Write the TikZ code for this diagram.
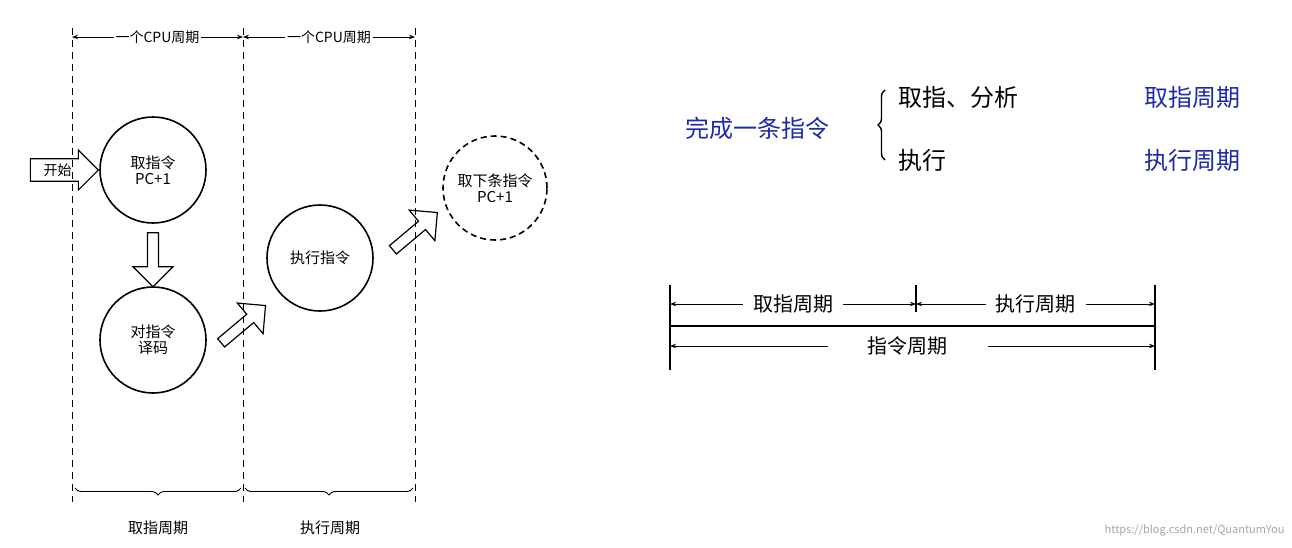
\documentclass[tikz,border=0pt]{standalone}
\usepackage{fontspec}
\setmainfont{Noto Sans CJK SC}
\usetikzlibrary{shapes.arrows,decorations.pathreplacing,arrows.meta}
\definecolor{navy}{RGB}{30,40,170}
\begin{document}
\begin{tikzpicture}[x=1pt,y=-1pt,
  stage/.style={circle,draw,line width=1.6pt,minimum size=106pt,inner sep=0pt,align=center,font=\fontsize{15}{18}\selectfont},
  fat/.style={single arrow,draw,line width=1.2pt,minimum height=52pt,minimum width=40pt,single arrow head extend=7pt,inner sep=2pt},
  guide/.style={dashed,line width=0.9pt,dash pattern=on 7pt off 5pt},
  dim/.style={{Stealth[length=6pt]}-{Stealth[length=6pt]},line width=0.7pt},
  lbl/.style={fill=white,inner sep=2pt},
  big/.style={font=\fontsize{24}{28}\selectfont}]
\useasboundingbox (0,0) rectangle (1292,547);
% guides
\coordinate (g1t) at (72,28); \coordinate (g1b) at (72,502);
\coordinate (g2t) at (243,28); \coordinate (g2b) at (243,502);
\coordinate (g3t) at (415,28); \coordinate (g3b) at (415,502);
\draw[guide] (g1t)--(g1b); \draw[guide] (g2t)--(g2b); \draw[guide] (g3t)--(g3b);
\coordinate (a1) at (72,37); \coordinate (a2) at (243,37); \coordinate (a3) at (415,37);
\draw[dim] (a1)--(a2) node[midway,lbl,font=\fontsize{14}{16}\selectfont] (c1) {一个CPU周期};
\draw[dim] (a2)--(a3) node[midway,lbl,font=\fontsize{14}{16}\selectfont] (c2) {一个CPU周期};
% circles
\node[stage] (fetch) at (153,170) {取指令\\[-2pt]PC+1};
\node[stage] (dec) at (153,340) {对指令\\[-2pt]译码};
\node[stage] (exe) at (320,258) {执行指令};
\node[stage,dashed,dash pattern=on 6pt off 4pt,minimum size=104pt] (next) at (495,188) {取下条指令\\[-2pt]PC+1};
% block arrows
\node[fat,minimum height=68pt,anchor=tip,font=\fontsize{14}{16}\selectfont,text width=30pt] (start) at (fetch.west) {开始};
\node[fat,shape border rotate=270,anchor=center,minimum height=54pt] (d1) at (153,257) {};
\node[fat,rotate=40,anchor=tip,minimum height=58pt] (d2) at (exe.west |- 0,305) {};
\node[fat,rotate=40,anchor=tip,minimum height=58pt] (d3) at (438,212) {};
% braces
\coordinate (b1) at (75,488); \coordinate (b2) at (241,488); \coordinate (b3) at (245,488); \coordinate (b4) at (413,488);
\draw[decorate,decoration={brace,mirror,amplitude=7pt},line width=0.9pt] (b1)--(b2);
\draw[decorate,decoration={brace,mirror,amplitude=7pt},line width=0.9pt] (b3)--(b4);
\node[font=\fontsize{15}{18}\selectfont] (l1) at (158,528) {取指周期};
\node[font=\fontsize{15}{18}\selectfont] (l2) at (330,528) {执行周期};
% right side
\node[big,text=navy] (done) at (757,128) {完成一条指令};
\coordinate (br1) at (885,90); \coordinate (br2) at (885,160);
\draw[decorate,decoration={brace,amplitude=7pt},line width=1.4pt] (br2)--(br1);
\node[big,anchor=west] (fa) at (895,97) {取指、分析};
\node[big,anchor=west] (ex) at (895,160) {执行};
\node[big,text=navy] (fc) at (1192,97) {取指周期};
\node[big,text=navy] (ec) at (1192,160) {执行周期};
% timeline
\coordinate (t1) at (670,285); \coordinate (t1b) at (670,370);
\coordinate (t2) at (916,285); \coordinate (t2b) at (916,312);
\coordinate (t3) at (1155,285); \coordinate (t3b) at (1155,370);
\draw[line width=1.8pt] (t1)--(t1b); \draw[line width=1.8pt] (t3)--(t3b); \draw[line width=1.4pt] (t2)--(t2b);
\coordinate (h1) at (670,326); \coordinate (h2) at (1155,326);
\draw[line width=1.8pt] (h1)--(h2);
\coordinate (p1) at (670,304); \coordinate (p2) at (916,304); \coordinate (p3) at (1155,304);
\coordinate (q1) at (670,346); \coordinate (q2) at (1155,346);
\draw[dim] (p1)--(p2) node[midway,lbl,inner xsep=10pt,font=\fontsize{20}{22}\selectfont] (w1) {取指周期};
\draw[dim] (p2)--(p3) node[midway,lbl,inner xsep=10pt,font=\fontsize{20}{22}\selectfont] (w2) {执行周期};
\draw[dim] (q1)--(q2) node[pos=0.49,lbl,inner xsep=40pt,font=\fontsize{20}{22}\selectfont] (w3) {指令周期};
\node[text=black!35,anchor=east,font=\fontsize{11}{12}\selectfont] (url) at (1288,530) {https://blog.csdn.net/QuantumYou};
\end{tikzpicture}
\end{document}
